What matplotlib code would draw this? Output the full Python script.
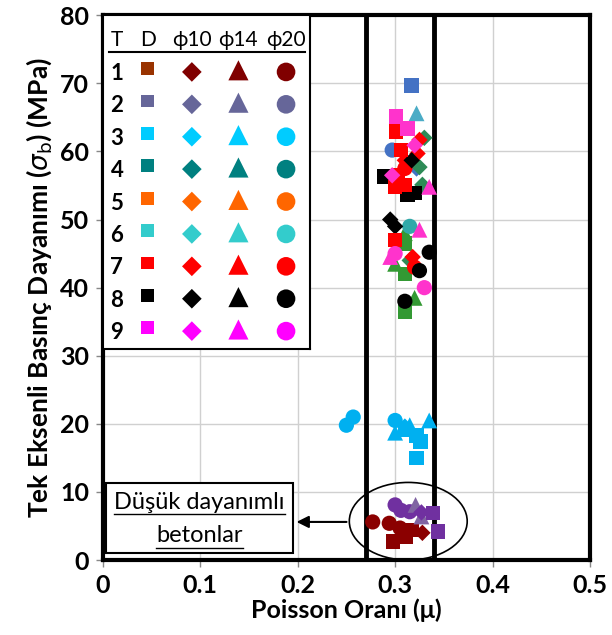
import matplotlib
matplotlib.use("Agg")
import matplotlib.pyplot as plt
import numpy as np
from matplotlib.patches import Ellipse, Rectangle

plt.rcParams['font.family'] = ['Lato', 'DejaVu Sans']
plt.rcParams['mathtext.fontset'] = 'dejavusans'

# legend table
leg_header = ['T', 'D', 'ϕ10', 'ϕ14', 'ϕ20']
leg_types = [1, 2, 3, 4, 5, 6, 7, 8, 9]
leg_colors = ['#800000', '#666699', '#00CCFF', '#008080', '#FF6600',
              '#33CCCC', '#FF0000', '#000000', '#FF00FF']
leg_sq_colors = ['#993300'] + leg_colors[1:]

# measured points (poisson ratio, strength MPa)
dred_o_x = [0.277, 0.294, 0.305]
dred_o_y = [5.6, 5.4, 4.7]
dred_s_x = [0.298, 0.311, 0.317]
dred_s_y = [2.7, 3.4, 4.4]
dred_d_x = [0.328]
dred_d_y = [4.0]
purp_o_x = [0.300, 0.306, 0.315]
purp_o_y = [8.1, 7.3, 7.1]
purp_t_x = [0.321, 0.327]
purp_t_y = [8.1, 6.4]
purp_d_x = [0.327]
purp_d_y = [7.0]
purp_s_x = [0.339, 0.344]
purp_s_y = [6.9, 4.2]

lblue_o_x = [0.250, 0.257, 0.300]
lblue_o_y = [19.8, 21.0, 20.5]
lblue_s_x = [0.310, 0.322, 0.326, 0.322]
lblue_s_y = [19.2, 18.3, 17.4, 15.0]
lblue_t_x = [0.300, 0.315, 0.335]
lblue_t_y = [18.7, 19.8, 20.5]
lblue_d_x = [0.310]
lblue_d_y = [19.6]

blue_s_x = [0.317]
blue_s_y = [69.7]
blue_o_x = [0.297]
blue_o_y = [60.2]
blue_t_x = [0.322]
blue_t_y = [65.6]
blue_d_x = [0.322]
blue_d_y = [57.5]
green_d_x = [0.330, 0.325, 0.328, 0.315]
green_d_y = [62.0, 57.7, 55.1, 44.0]
green_s_x = [0.310, 0.310, 0.310]
green_s_y = [46.5, 42.0, 36.5]
green_t_x = [0.310, 0.300, 0.320]
green_t_y = [48.0, 43.5, 38.5]
teal_o_x = [0.315]
teal_o_y = [49.0]
red_s_x = [0.301, 0.306, 0.303, 0.310, 0.300, 0.300]
red_s_y = [62.9, 60.2, 56.5, 55.1, 54.8, 47.0]
red_d_x = [0.325, 0.323, 0.310, 0.318]
red_d_y = [61.7, 59.7, 58.7, 44.5]
red_o_x = [0.310, 0.320]
red_o_y = [57.5, 43.0]
blk_s_x = [0.289, 0.313, 0.320]
blk_s_y = [56.3, 53.6, 53.9]
blk_d_x = [0.317, 0.295, 0.300]
blk_d_y = [58.7, 50.0, 49.0]
blk_o_x = [0.335, 0.325, 0.310]
blk_o_y = [45.2, 42.5, 38.0]
mag_s_x = [0.301, 0.313]
mag_s_y = [65.1, 63.4]
mag_d_x = [0.320, 0.297]
mag_d_y = [60.9, 56.5]
mag_t_x = [0.335, 0.325, 0.295]
mag_t_y = [54.8, 48.5, 44.5]
mag_o_x = [0.300, 0.330]
mag_o_y = [45.0, 40.0]

limits = [0.27, 0.34]

series = [
    (dred_o_x, dred_o_y, '#8B0000', 'o'), (dred_s_x, dred_s_y, '#8B0000', 's'),
    (dred_d_x, dred_d_y, '#8B0000', 'D'), (purp_o_x, purp_o_y, '#7030A0', 'o'),
    (purp_t_x, purp_t_y, '#8064A2', '^'), (purp_d_x, purp_d_y, '#7030A0', 'D'),
    (purp_s_x, purp_s_y, '#7030A0', 's'),
    (lblue_o_x, lblue_o_y, '#00B0F0', 'o'), (lblue_s_x, lblue_s_y, '#00B0F0', 's'),
    (lblue_t_x, lblue_t_y, '#00B0F0', '^'), (lblue_d_x, lblue_d_y, '#00B0F0', 'D'),
    (blue_s_x, blue_s_y, '#4472C4', 's'), (blue_o_x, blue_o_y, '#4472C4', 'o'),
    (blue_t_x, blue_t_y, '#4BACC6', '^'), (blue_d_x, blue_d_y, '#4472C4', 'D'),
    (green_d_x, green_d_y, '#2E8B57', 'D'), (green_s_x, green_s_y, '#339933', 's'),
    (green_t_x, green_t_y, '#339933', '^'), (teal_o_x, teal_o_y, '#31A9A9', 'o'),
    (red_o_x, red_o_y, '#FF0000', 'o'), (red_d_x, red_d_y, '#FF0000', 'D'),
    (blk_s_x, blk_s_y, '#000000', 's'), (blk_d_x, blk_d_y, '#000000', 'D'),
    (blk_o_x, blk_o_y, '#000000', 'o'), (red_s_x, red_s_y, '#FF0000', 's'),
    (mag_s_x, mag_s_y, '#FF33CC', 's'), (mag_d_x, mag_d_y, '#FF33CC', 'D'),
    (mag_t_x, mag_t_y, '#FF33CC', '^'), (mag_o_x, mag_o_y, '#FF33CC', 'o'),
]
msize = {'o': 120, 's': 110, 'D': 70, '^': 130}

fig = plt.figure(figsize=(6.12, 6.35), dpi=100)
ax = fig.add_axes([0.168, 0.118, 0.796, 0.858])
ax.set_xlim(0, 0.5)
ax.set_ylim(0, 80)
ax.set_xticks(np.arange(0, 0.51, 0.1))
ax.set_xticklabels(['0', '0.1', '0.2', '0.3', '0.4', '0.5'])
ax.set_yticks(np.arange(0, 81, 10))
ax.grid(True, color='#D0D0D0', lw=1)
ax.set_axisbelow(True)
for s in ax.spines.values():
    s.set_linewidth(3)
ax.tick_params(direction='out', length=5, width=1, color='#888888',
               labelsize=18, pad=5)
for lab in ax.get_xticklabels() + ax.get_yticklabels():
    lab.set_fontweight('bold')
ax.set_xlabel('Poisson Oranı (μ)', fontsize=18, fontweight='bold', labelpad=1)
ax.set_ylabel(r'Tek Eksenli Basınç Dayanımı ($\sigma_\mathrm{b}$) (MPa)',
              fontsize=19, fontweight='bold', labelpad=4)

for xv in limits:
    ax.axvline(xv, color='k', lw=3.5, zorder=2)

for xs, ys, c, m in series:
    ax.scatter(xs, ys, s=msize[m], marker=m, color=c, edgecolors='none', zorder=3)

ax.add_patch(Ellipse((0.3135, 5.7), 0.121, 11.4, fill=False, ec='k', lw=1.2, zorder=4))
ax.annotate('', xy=(0.196, 5.6), xytext=(0.253, 5.6),
            arrowprops=dict(arrowstyle='-|>', color='k', lw=1.5, mutation_scale=18),
            zorder=4)
ax.add_patch(Rectangle((0.003, 1.0), 0.192, 10.3, fc='white', ec='k', lw=1.5, zorder=4))
t1 = ax.text(0.099, 8.4, 'Düşük dayanımlı', ha='center', va='center', fontsize=17, zorder=5)
t2 = ax.text(0.099, 3.6, 'betonlar', ha='center', va='center', fontsize=17, zorder=5)
fig.canvas.draw()
inv = ax.transData.inverted()
for t, uy in ((t1, 6.7), (t2, 1.8)):
    bb = t.get_window_extent()
    x0 = inv.transform((bb.x0, 0))[0]
    x1 = inv.transform((bb.x1, 0))[0]
    ax.plot([x0, x1], [uy, uy], color='k', lw=1, zorder=5)

# legend table
leg = ax.inset_axes([0.0, 0.3875, 0.425, 0.6125])
leg.set_xlim(0, 1)
leg.set_ylim(9.55, -0.75)
leg.set_xticks([])
leg.set_yticks([])
for s in leg.spines.values():
    s.set_linewidth(1.5)
col_x = [0.068, 0.217, 0.43, 0.655, 0.885]
for cx, h in zip(col_x, leg_header):
    leg.text(cx, 0.02, h, ha='center', va='center', fontsize=15)
leg.plot([0.03, 0.975], [0.4, 0.4], color='k', lw=1.5)
for r in leg_types:
    leg.text(col_x[0], r + 0.05, str(r), ha='center', va='center', fontsize=16, fontweight='bold')
rows = np.array(leg_types)
leg.scatter(np.full(9, col_x[1]), rows - 0.1, marker='s', s=85, c=leg_sq_colors, edgecolors='none')
leg.scatter(np.full(9, col_x[2]), rows, marker='D', s=100, c=leg_colors, edgecolors='none')
leg.scatter(np.full(9, col_x[3]), rows - 0.05, marker='^', s=210, c=leg_colors, edgecolors='none')
leg.scatter(np.full(9, col_x[4]), rows, marker='o', s=180, c=leg_colors, edgecolors='none')

fig.savefig('out.png', dpi=100)
